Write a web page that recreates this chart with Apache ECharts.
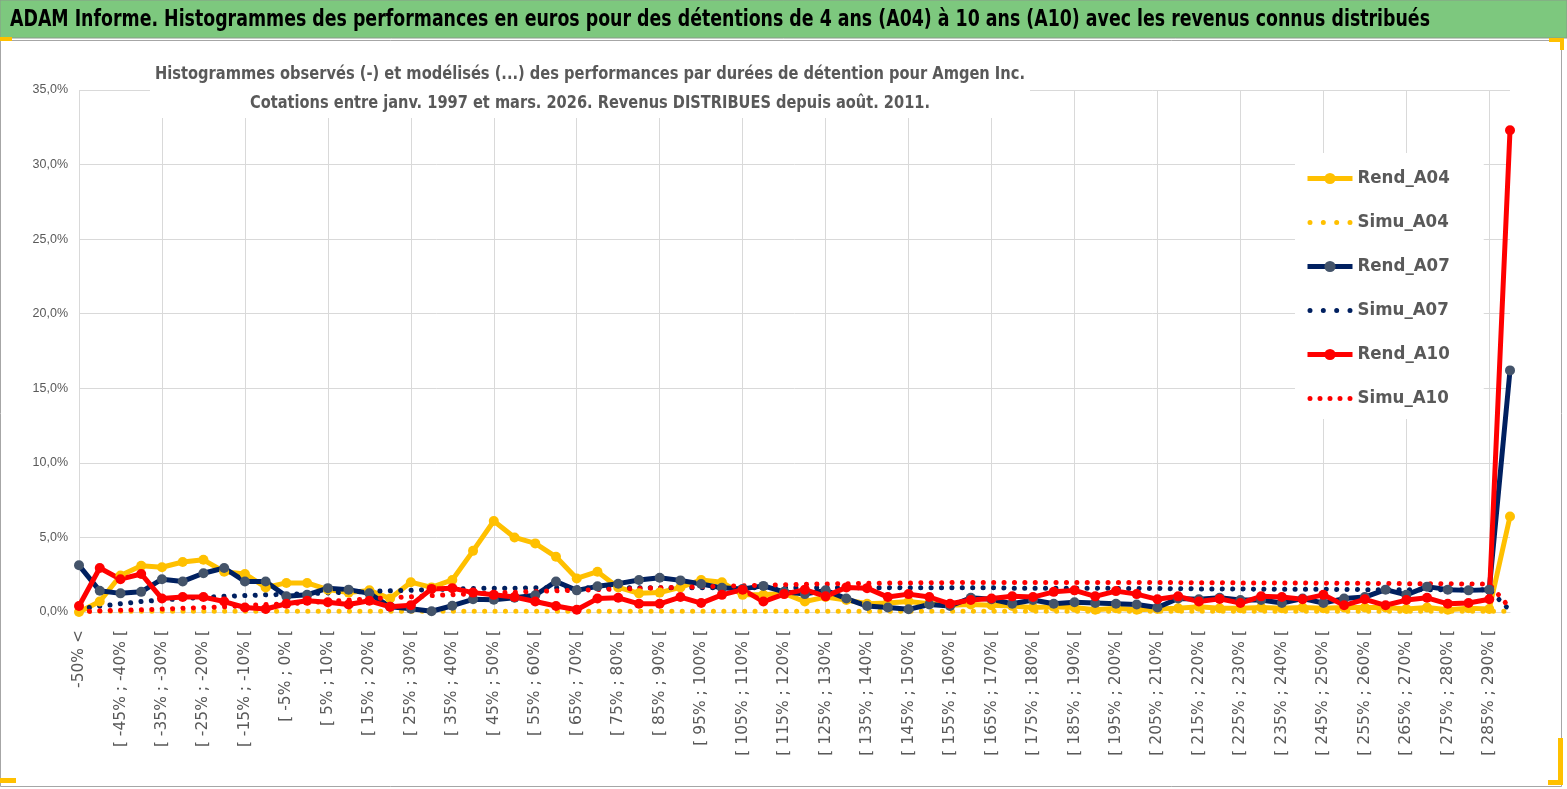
<!DOCTYPE html>
<html>
<head>
<meta charset="utf-8">
<script src="https://cdn.jsdelivr.net/npm/echarts@6/dist/echarts.min.js"></script>
<style>
html,body{margin:0;padding:0;background:#fff;}
#chart{width:1567px;height:789px;}
</style>
</head>
<body>
<div id="chart"></div>
<script>
const mainTitle = "ADAM Informe. Histogrammes des performances en euros pour des détentions de 4 ans (A04) à 10 ans (A10) avec les revenus connus distribués";
const subTitle1 = "Histogrammes observés (-) et modélisés (...) des performances par durées de détention pour Amgen Inc.";
const subTitle2 = "Cotations entre janv. 1997 et mars. 2026. Revenus DISTRIBUES depuis août. 2011.";

const categories = [
"-50% <",
"[ -50% ; -45% [","[ -45% ; -40% [","[ -40% ; -35% [","[ -35% ; -30% [","[ -30% ; -25% [",
"[ -25% ; -20% [","[ -20% ; -15% [","[ -15% ; -10% [","[ -10% ; -5% [","[ -5% ; 0% [",
"[ 0% ; 5% [","[ 5% ; 10% [","[ 10% ; 15% [","[ 15% ; 20% [","[ 20% ; 25% [",
"[ 25% ; 30% [","[ 30% ; 35% [","[ 35% ; 40% [","[ 40% ; 45% [","[ 45% ; 50% [",
"[ 50% ; 55% [","[ 55% ; 60% [","[ 60% ; 65% [","[ 65% ; 70% [","[ 70% ; 75% [",
"[ 75% ; 80% [","[ 80% ; 85% [","[ 85% ; 90% [","[ 90% ; 95% [","[ 95% ; 100% [",
"[ 100% ; 105% [","[ 105% ; 110% [","[ 110% ; 115% [","[ 115% ; 120% [","[ 120% ; 125% [",
"[ 125% ; 130% [","[ 130% ; 135% [","[ 135% ; 140% [","[ 140% ; 145% [","[ 145% ; 150% [",
"[ 150% ; 155% [","[ 155% ; 160% [","[ 160% ; 165% [","[ 165% ; 170% [","[ 170% ; 175% [",
"[ 175% ; 180% [","[ 180% ; 185% [","[ 185% ; 190% [","[ 190% ; 195% [","[ 195% ; 200% [",
"[ 200% ; 205% [","[ 205% ; 210% [","[ 210% ; 215% [","[ 215% ; 220% [","[ 220% ; 225% [",
"[ 225% ; 230% [","[ 230% ; 235% [","[ 235% ; 240% [","[ 240% ; 245% [","[ 245% ; 250% [",
"[ 250% ; 255% [","[ 255% ; 260% [","[ 260% ; 265% [","[ 265% ; 270% [","[ 270% ; 275% [",
"[ 275% ; 280% [","[ 280% ; 285% [","[ 285% ; 290% [",
"290% >"
];

const seriesNames = ["Rend_A04","Simu_A04","Rend_A07","Simu_A07","Rend_A10","Simu_A10"];

const rendA04 = [
0.0,0.7,2.45,3.1,3.0,3.35,3.5,2.7,2.55,1.65,
1.95,1.95,1.5,1.3,1.45,0.9,2.0,1.65,2.15,4.1,
6.1,5.0,4.6,3.7,2.25,2.7,1.65,1.25,1.3,1.65,
2.15,2.0,1.15,1.15,1.25,0.7,1.0,0.8,0.55,0.6,
0.7,0.55,0.45,0.5,0.45,0.4,0.3,0.35,0.3,0.15,
0.25,0.15,0.2,0.25,0.35,0.25,0.25,0.3,0.25,0.3,
0.25,0.3,0.3,0.3,0.2,0.3,0.15,0.25,0.2,6.4];

const simuA04 = [
0.02,0.05,0.05,0.05,0.05,0.05,0.05,0.05,0.05,0.05,
0.05,0.05,0.05,0.05,0.05,0.05,0.05,0.05,0.05,0.05,
0.05,0.05,0.05,0.05,0.05,0.05,0.05,0.05,0.05,0.05,
0.05,0.05,0.05,0.05,0.05,0.05,0.05,0.05,0.05,0.05,
0.05,0.05,0.05,0.05,0.05,0.05,0.05,0.05,0.05,0.05,
0.05,0.05,0.05,0.05,0.05,0.05,0.05,0.05,0.05,0.05,
0.05,0.05,0.05,0.05,0.05,0.05,0.05,0.05,0.05,0.05];

const rendA07 = [
3.13,1.42,1.25,1.35,2.2,2.05,2.6,2.95,2.05,2.05,
1.05,1.15,1.6,1.5,1.25,0.35,0.22,0.05,0.42,0.85,
0.82,0.95,1.12,2.05,1.45,1.72,1.9,2.15,2.3,2.12,
1.88,1.62,1.55,1.75,1.35,1.2,1.45,0.9,0.4,0.3,
0.18,0.5,0.4,0.95,0.85,0.55,0.8,0.55,0.65,0.6,
0.55,0.5,0.3,0.9,0.85,0.95,0.8,0.8,0.6,0.9,
0.6,0.9,1.0,1.5,1.15,1.7,1.5,1.45,1.5,16.2];

const simuA07 = [
0.2,0.4,0.55,0.7,0.8,0.9,0.98,1.05,1.1,1.15,
1.18,1.22,1.28,1.33,1.38,1.42,1.46,1.5,1.54,1.57,
1.6,1.6,1.62,1.62,1.62,1.63,1.63,1.63,1.63,1.63,
1.63,1.63,1.63,1.63,1.63,1.63,1.63,1.63,1.63,1.63,
1.62,1.62,1.62,1.62,1.62,1.6,1.6,1.6,1.6,1.6,
1.58,1.58,1.57,1.56,1.55,1.55,1.54,1.53,1.52,1.52,
1.52,1.51,1.5,1.5,1.5,1.5,1.5,1.5,1.5,0.1];

const rendA10 = [
0.4,2.95,2.2,2.55,0.9,1.0,1.0,0.7,0.3,0.2,
0.55,0.75,0.65,0.5,0.75,0.35,0.45,1.55,1.6,1.3,
1.15,1.0,0.7,0.4,0.15,0.9,0.95,0.55,0.55,1.0,
0.6,1.15,1.5,0.7,1.2,1.5,1.05,1.65,1.6,1.0,
1.2,1.0,0.55,0.8,0.9,1.05,1.0,1.35,1.45,1.05,
1.4,1.2,0.85,1.05,0.7,0.88,0.6,1.05,1.0,0.85,
1.15,0.45,0.85,0.45,0.8,0.95,0.55,0.6,0.85,32.3];

const simuA10 = [
0.02,0.08,0.12,0.15,0.2,0.25,0.3,0.35,0.42,0.5,
0.55,0.62,0.72,0.8,0.88,0.96,1.02,1.1,1.16,1.22,
1.28,1.33,1.38,1.42,1.46,1.5,1.54,1.58,1.62,1.65,
1.7,1.73,1.76,1.8,1.83,1.86,1.88,1.9,1.92,1.94,
1.95,1.96,1.97,1.98,1.98,1.98,1.98,1.98,1.98,1.98,
1.98,1.98,1.97,1.97,1.96,1.96,1.95,1.95,1.94,1.94,
1.93,1.92,1.92,1.91,1.9,1.9,1.89,1.88,1.87,0.27];

const yTicks = {min: 0, max: 35, interval: 5};

const colors = {
  yellow: '#FFC000',
  navy: '#002060',
  navyMarker: '#44546A',
  red: '#FF0000',
  text: '#595959',
  grid: '#D9D9D9',
  green: '#7DC87E'
};

const FONT = "'Liberation Sans Narrow','DejaVu Sans Condensed','Liberation Sans',sans-serif";
const cv = document.createElement('canvas').getContext('2d');
function textWidth(text, font) {
  cv.font = font;
  return cv.measureText(text).width;
}
const titleFont = 'bold 22.5px ' + FONT;
const sub1Font = 'bold 18.5px ' + FONT;
const sub2Font = 'bold 18.5px ' + FONT;
const titleScale = 1420 / textWidth(mainTitle, titleFont);
const sub1Scale = 870 / textWidth(subTitle1, sub1Font);
const sub2Scale = 680 / textWidth(subTitle2, sub2Font);

function dots(n) {
  let p = 'path://';
  const step = 40 / (n - 1);
  for (let i = 0; i < n; i++) {
    const x = (i * step).toFixed(2);
    p += 'M' + x + ',2.5a2.5,2.5 0 1,0 5,0a2.5,2.5 0 1,0 -5,0Z';
  }
  return p;
}

function rend(name, data, lineColor, markColor) {
  return {
    name: name, type: 'line', data: data,
    symbol: 'circle', symbolSize: 10, showSymbol: true,
    lineStyle: {width: 5, color: lineColor},
    itemStyle: {color: markColor},
    emphasis: {disabled: true},
    animation: false
  };
}
function simu(name, data, color) {
  return {
    name: name, type: 'line', data: data,
    symbol: 'none',
    lineStyle: {width: 5, color: color, type: [0.1, 10.3], cap: 'round'},
    itemStyle: {color: color},
    emphasis: {disabled: true},
    animation: false
  };
}

const chart = echarts.init(document.getElementById('chart'), null, {renderer: 'canvas'});
chart.setOption({
  backgroundColor: '#fff',
  animation: false,
  graphic: [
    {type: 'rect', shape: {x: 0.5, y: 40.5, width: 1561, height: 746}, style: {fill: '#fff', stroke: '#A6A6A6', lineWidth: 1}, z: -10, silent: true},
    {type: 'rect', shape: {x: 0, y: 0, width: 1567, height: 38}, style: {fill: colors.green, stroke: '#8A9A8A', lineWidth: 1}, z: -9, silent: true},
    {type: 'text', x: 10, y: 20, scaleX: titleScale, style: {text: mainTitle, font: titleFont, fill: '#000', textVerticalAlign: 'middle', textAlign: 'left'}, z: 10, silent: true},
    {type: 'rect', shape: {x: 150, y: 58, width: 880, height: 60}, style: {fill: '#fff'}, z: 50, silent: true},
    {type: 'text', x: 590, y: 74, scaleX: sub1Scale, style: {text: subTitle1, font: sub1Font, fill: colors.text, textVerticalAlign: 'middle', textAlign: 'center'}, z: 51, silent: true},
    {type: 'text', x: 590, y: 103, scaleX: sub2Scale, style: {text: subTitle2, font: sub2Font, fill: colors.text, textVerticalAlign: 'middle', textAlign: 'center'}, z: 51, silent: true},
    {type: 'rect', shape: {x: 0, y: 37, width: 12, height: 4}, style: {fill: colors.yellow}, z: 20, silent: true},
    {type: 'rect', shape: {x: 1549, y: 38, width: 15, height: 4}, style: {fill: colors.yellow}, z: 20, silent: true},
    {type: 'rect', shape: {x: 1560, y: 38, width: 4, height: 12}, style: {fill: colors.yellow}, z: 20, silent: true},
    {type: 'rect', shape: {x: 0, y: 778, width: 16, height: 5}, style: {fill: colors.yellow}, z: 20, silent: true},
    {type: 'rect', shape: {x: 1548, y: 780, width: 15, height: 5}, style: {fill: colors.yellow}, z: 20, silent: true},
    {type: 'rect', shape: {x: 1558, y: 738, width: 5, height: 47}, style: {fill: colors.yellow}, z: 20, silent: true}
  ],
  grid: {left: 79, right: 57, top: 90, bottom: 177, containLabel: false},
  legend: {
    orient: 'vertical', left: 1295, top: 153,
    padding: [16, 34, 11, 10],
    backgroundColor: '#fff',
    itemWidth: 45, itemHeight: 14, itemGap: 25,
    symbolKeepAspect: true,
    lineStyle: {width: 5},
    data: [
      {name: 'Rend_A04'},
      {name: 'Simu_A04', icon: dots(4)},
      {name: 'Rend_A07'},
      {name: 'Simu_A07', icon: dots(4)},
      {name: 'Rend_A10'},
      {name: 'Simu_A10', icon: dots(5)}
    ],
    textStyle: {fontFamily: FONT, fontWeight: 'bold', fontSize: 18.5, color: colors.text}
  },
  xAxis: {
    type: 'category', data: categories, boundaryGap: false,
    axisLine: {show: true, lineStyle: {color: colors.grid}},
    axisTick: {show: false},
    axisLabel: {interval: 1, rotate: 90, margin: 18, color: colors.text, fontFamily: 'DejaVu Sans', fontSize: 15.5},
    splitLine: {show: true, interval: 3, lineStyle: {color: colors.grid, width: 1}}
  },
  yAxis: {
    type: 'value', min: yTicks.min, max: yTicks.max, interval: yTicks.interval,
    axisLine: {show: false}, axisTick: {show: false},
    axisLabel: {margin: 11, color: colors.text, fontFamily: 'Liberation Sans', fontSize: 12.5,
      formatter: v => v.toFixed(1).replace('.', ',') + '%'},
    splitLine: {show: true, lineStyle: {color: colors.grid, width: 1}}
  },
  series: [
    rend('Rend_A04', rendA04, colors.yellow, colors.yellow),
    simu('Simu_A04', simuA04, colors.yellow),
    rend('Rend_A07', rendA07, colors.navy, colors.navyMarker),
    simu('Simu_A07', simuA07, colors.navy),
    rend('Rend_A10', rendA10, colors.red, colors.red),
    simu('Simu_A10', simuA10, colors.red)
  ]
});
</script>
</body>
</html>
